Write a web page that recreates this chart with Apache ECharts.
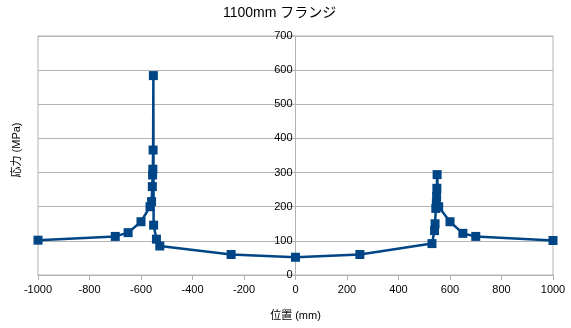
<!DOCTYPE html>
<html>
<head>
<meta charset="utf-8">
<script src="https://cdn.jsdelivr.net/npm/echarts@6/dist/echarts.min.js"></script>
<style>
  html, body { margin: 0; padding: 0; background: #fff; }
  #chart { width: 571px; height: 328px; }
</style>
</head>
<body>
<div id="chart"></div>
<script>
// Stress along the 1100mm flange: position (mm) and stress (MPa)
const positions = [-1000, -700, -650, -600, -565, -559, -556, -555, -554, -553, -552, -551, -540, -527,
                   -250, 0, 250,
                   530, 540, 542, 545, 547, 548, 549, 550, 556, 600, 650, 700, 1000];
const stresses  = [102, 113, 124, 156, 200, 215, 259, 293, 310, 366, 584, 146, 105, 85,
                   60, 52, 60,
                   92, 130, 150, 195, 210, 230, 254, 294, 200, 156, 122, 113, 101];

const titleText = '1100mm フランジ';
const xName = '位置 (mm)';
const yName = '応力 (MPa)';

const fontFamily = '"Liberation Sans", "Noto Sans CJK JP", sans-serif';

const points = positions.map((x, i) => [x, stresses[i]]);

// plot area geometry
const gridLeft = 38, gridRight = 18;
const plotWidth = 571 - gridLeft - gridRight;

const chart = echarts.init(document.getElementById('chart'), null, { renderer: 'canvas' });
chart.setOption({
  animation: false,
  backgroundColor: '#ffffff',
  textStyle: { fontFamily },
  title: {
    text: titleText,
    left: 218,
    top: 1,
    textStyle: { fontFamily, fontSize: 14, fontWeight: 'normal', color: '#000' }
  },
  grid: {
    left: gridLeft, right: gridRight, top: 36, bottom: 53,
    show: true, borderColor: '#b3b3b3', borderWidth: 1
  },
  xAxis: {
    type: 'value',
    min: -1000, max: 1000, interval: 200,
    name: xName,
    nameLocation: 'middle',
    nameGap: 35,
    nameTextStyle: { fontFamily, fontSize: 11, color: '#000' },
    axisLine: { show: true, onZero: false, lineStyle: { color: '#b3b3b3' } },
    axisTick: { show: true, inside: false, length: 5, lineStyle: { color: '#b3b3b3' } },
    axisLabel: { fontFamily, fontSize: 11, color: '#000', margin: 9, formatter: v => String(v) },
    splitLine: { show: false }
  },
  yAxis: {
    type: 'value',
    min: 0, max: 700, interval: 100,
    position: 'left',
    // the vertical axis is drawn through x = 0, the middle of the plot
    offset: -plotWidth / 2,
    axisLine: { show: true, onZero: false, lineStyle: { color: '#b3b3b3' } },
    axisTick: { show: true, inside: false, length: 5, lineStyle: { color: '#b3b3b3' } },
    axisLabel: { fontFamily, fontSize: 11, color: '#000', margin: 3, formatter: v => String(v) },
    splitLine: { show: true, lineStyle: { color: '#b3b3b3', width: 1 } }
  },
  graphic: [{
    type: 'text',
    x: 17, y: 150,
    rotation: Math.PI / 2,
    style: {
      text: yName,
      fontFamily, fontSize: 11, fill: '#000',
      align: 'center', verticalAlign: 'middle'
    }
  }],
  series: [{
    type: 'line',
    data: points,
    symbol: 'rect',
    symbolSize: 9,
    showAllSymbol: true,
    lineStyle: { color: '#004586', width: 2.5 },
    itemStyle: { color: '#004586' },
    z: 3
  }]
});
</script>
</body>
</html>
